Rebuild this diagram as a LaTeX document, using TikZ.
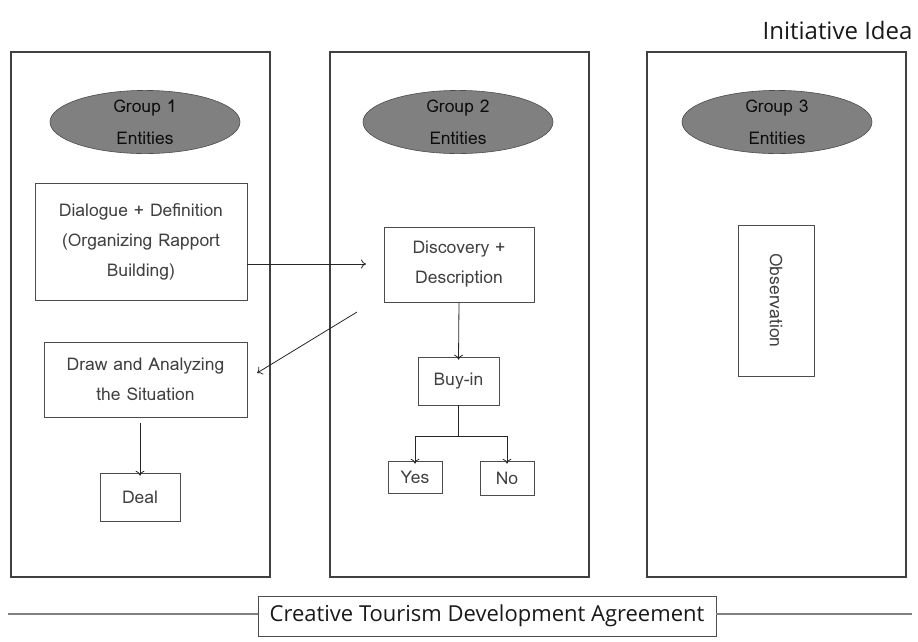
\documentclass[tikz,border=0pt]{standalone}
\usepackage{fontspec}
\setmainfont{Open Sans}
\newfontfamily\boxfont{Loma}
\usetikzlibrary{shapes.geometric,arrows.meta}
\begin{document}
\begin{tikzpicture}[x=1pt,y=-1pt,
  panel/.style={draw=black!75,line width=1.3pt},
  ent/.style={ellipse,draw=black!70,fill=black!50,line width=0.6pt,minimum width=190pt,minimum height=62pt,align=center,font=\boxfont\fontsize{17.5}{32}\selectfont,text=black!95,inner sep=0pt},
  bx/.style={draw=black!70,line width=0.6pt,align=center,font=\boxfont\fontsize{17.5}{30}\selectfont,text=black!75,inner sep=0pt},
  arr/.style={-{To[length=5pt,width=9pt]},line width=0.8pt,draw=black!85}]
\useasboundingbox (0,0) rectangle (918,641);
\node[anchor=east,font=\fontsize{24}{26}\selectfont,text=black!90] (title) at (916,30) {Initiative Idea};
% panels
\node[panel,minimum width=259pt,minimum height=525pt,inner sep=0pt] (p1) at (140.5,314.5) {};
\node[panel,minimum width=259pt,minimum height=525pt,inner sep=0pt] (p2) at (459.5,314.5) {};
\node[panel,minimum width=259pt,minimum height=525pt,inner sep=0pt] (p3) at (776.5,314.5) {};
% ellipses
\node[ent] (g1) at (145,122) {Group 1\\Entities};
\node[ent] (g2) at (458,122) {Group 2\\Entities};
\node[ent] (g3) at (777,122) {Group 3\\Entities};
% group 1
\node[bx,minimum width=212pt,minimum height=117pt] (dial) at (141,241.5) {Dialogue + Definition\\(Organizing Rapport\\Building)};
\node[bx,minimum width=203pt,minimum height=75pt] (draw) at (145.5,379.5) {Draw and Analyzing\\the Situation};
\node[bx,minimum width=80pt,minimum height=48pt] (deal) at (140,497) {Deal};
% group 2
\node[bx,minimum width=150pt,minimum height=75pt] (disc) at (459,264.5) {Discovery +\\Description};
\node[bx,minimum width=81pt,minimum height=48pt] (buy) at (458.5,381) {Buy-in};
\node[bx,minimum width=54pt,minimum height=32pt] (yes) at (415,477) {Yes};
\node[bx,minimum width=54pt,minimum height=34pt] (no) at (507,478) {No};
% group 3
\node[bx,minimum width=76pt,minimum height=151pt] (obs) at (776,300.5) {};
\node[rotate=-90,font=\boxfont\fontsize{17.5}{20}\selectfont,text=black!75] (obst) at (obs.center) {Observation};
% connectors
\coordinate (a1e) at (366,264);
\draw[arr] (dial.east |- a1e) -- (a1e);
\coordinate (a2s) at (357,312);
\coordinate (a2e) at (257,373);
\draw[arr] (a2s) -- (a2e);
\coordinate (d1) at (140,423);
\draw[arr] (d1) -- ([yshift=-3pt]deal.north);
\draw[arr] (disc.south) -- ([yshift=-3pt]buy.north);
\coordinate (split) at (458.5,436);
\draw[line width=0.8pt,draw=black!85] (buy.south) -- (split);
\draw[arr] (split) -| ([yshift=-3pt]yes.north);
\draw[arr] (split) -| ([yshift=-3pt]no.north);
% bottom
\node[draw=black!70,line width=0.6pt,minimum width=458pt,minimum height=40pt,inner sep=0pt,font=\fontsize{22}{24}\selectfont,text=black!90] (agree) at (487,616) {Creative Tourism Development Agreement};
\coordinate (bl) at (8,614);
\coordinate (br) at (912,614);
\draw[black!50,line width=1.2pt] (bl) -- (agree.west |- bl);
\draw[black!50,line width=1.2pt] (agree.east |- br) -- (br);
\end{tikzpicture}
\end{document}
